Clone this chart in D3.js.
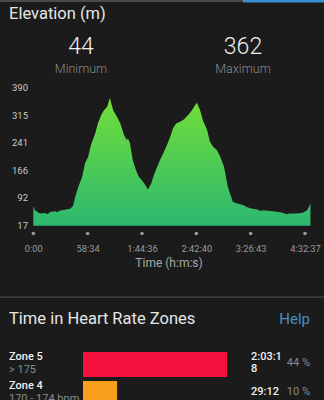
<!DOCTYPE html>
<html><head><meta charset="utf-8">
<script src="https://cdn.jsdelivr.net/npm/d3@7"></script>
<style>
html,body{margin:0;padding:0;background:#1b1b1b;overflow:hidden;}
svg{display:block;font-family:Roboto,"Noto Sans",sans-serif;}
</style></head>
<body>
<script>
// ---- data ----
const distance = [0,0.03,0.12,0.22,0.26,0.31,0.40,0.44,0.49,0.58,0.68,0.73,0.77,0.82,0.90,0.95,1.01,1.06,1.14,1.19,1.25,1.30,1.36,1.41,1.47,1.54,1.60,1.67,1.72,1.74,1.78,1.83,1.89,1.94,2.00,2.06,2.11,2.17,2.22,2.28,2.33,2.39,2.46,2.52,2.57,2.63,2.70,2.77,2.85,2.92,2.98,3.01,3.07,3.12,3.20,3.25,3.31,3.38,3.44,3.51,3.58,3.64,3.67,3.75,3.86,3.92,3.99,4.12,4.18,4.23,4.36,4.48,4.59,4.66,4.72,4.85,4.96,5.04,5.10];
const elevation = [70,59,50,51,48,54,56,53,58,60,63,70,94,119,149,185,203,235,267,294,316,329,338,362,329,311,294,262,248,253,240,194,167,149,140,127,115,131,154,176,194,212,235,257,280,293,298,304,316,329,343,349,329,302,275,244,230,221,203,176,122,95,82,77,73,68,64,61,57,59,57,55,52,48,50,50,52,59,77];
const yTicks = [17,92,166,241,315,390];
const xTickPos = [0,1,2,3,4,5];
const xTickLabels = ["0:00","58:34","1:44:36","2:42:40","3:26:43","4:32:37"];
const statValues = [44,362];
const statLabels = ["Minimum","Maximum"];
const zoneNames = ["Zone 5","Zone 4"];
const zoneRanges = ["> 175","170 - 174 bpm"];
const zoneSeconds = [7398,1752];
const zoneTimeLines = [["2:03:1","8"],["29:12"]];
const zonePercent = ["44 %","10 %"];
const zoneColors = ["#f5103f","#f8a01b"];

const W=324,H=400;
const svg=d3.select("body").append("svg").attr("width",W).attr("height",H);
svg.append("rect").attr("width",W).attr("height",H).attr("fill","#1b1b1b");

// top tab bar
svg.append("rect").attr("x",0).attr("y",0).attr("width",243).attr("height",2).attr("fill","#4a4a4a");
svg.append("rect").attr("x",243).attr("y",0).attr("width",81).attr("height",2.5).attr("fill","#3b8ed0");

svg.append("text").attr("x",9).attr("y",19).attr("fill","#e6e6e6").attr("font-size",16.5).text("Elevation (m)");

const statX=[81,243];
statValues.forEach((v,i)=>{
  svg.append("text").attr("x",statX[i]).attr("y",54).attr("text-anchor","middle").attr("fill","#eeeeee")
    .attr("font-size",23).attr("font-weight",300).text(v);
  svg.append("text").attr("x",statX[i]).attr("y",73).attr("text-anchor","middle").attr("fill","#8a8a8a")
    .attr("font-size",12.5).attr("font-weight",300).text(statLabels[i]);
});

// scales
const x=d3.scaleLinear().domain([0,5]).range([33.3,305]);
const y=d3.scaleLinear().domain([17,390]).range([225.7,87.6]);

const defs=svg.append("defs");
const grad=defs.append("linearGradient").attr("id","g")
  .attr("gradientUnits","userSpaceOnUse").attr("x1",0).attr("y1",y(362)).attr("x2",0).attr("y2",y(17));
grad.append("stop").attr("offset",0).attr("stop-color","#72df38");
grad.append("stop").attr("offset",1).attr("stop-color","#2cb870");

const data=distance.map((d,i)=>({d,e:elevation[i]}));
const area=d3.area().x(p=>x(p.d)).y0(y(17)).y1(p=>y(p.e));
svg.append("path").datum(data).attr("d",area).attr("fill","url(#g)");

// y axis labels
const yAxis=d3.axisLeft(y).tickValues(yTicks).tickSize(0).tickPadding(0);
const gy=svg.append("g").attr("transform","translate(28,0)").call(yAxis);
gy.select(".domain").remove();
gy.selectAll("text").attr("fill","#c8c8c8").attr("font-size",9.5).attr("font-family","Roboto,sans-serif");

// x axis dots + labels
const xAxis=d3.axisBottom(x).tickValues(xTickPos).tickFormat((d,i)=>xTickLabels[i]).tickSize(0).tickPadding(0);
const gx=svg.append("g").attr("transform","translate(0,251.5)").call(xAxis);
gx.select(".domain").remove();
gx.selectAll("text").attr("fill","#9a9a9a").attr("font-size",9.3).attr("font-family","Roboto,sans-serif").attr("dy",0);
svg.selectAll("circle.dot").data(xTickPos).enter().append("circle").attr("class","dot")
  .attr("cx",d=>x(d)).attr("cy",233.5).attr("r",1.8).attr("fill","#9a9a9a");
svg.append("text").attr("x",169).attr("y",267).attr("text-anchor","middle").attr("fill","#a8a8a8")
  .attr("font-size",12).text("Time (h:m:s)");

// separator
svg.append("rect").attr("x",0).attr("y",296.5).attr("width",W).attr("height",1.2).attr("fill","#4a4a4a");

// heart rate zones
svg.append("text").attr("x",9).attr("y",324).attr("fill","#e6e6e6").attr("font-size",16.5).text("Time in Heart Rate Zones");
svg.append("text").attr("x",310).attr("y",324).attr("text-anchor","end").attr("fill","#4a8fc2").attr("font-size",15).text("Help");

const bx=d3.scaleLinear().domain([0,7398]).range([0,144]);
const rowY=[352,381];
zoneNames.forEach((n,i)=>{
  const r=rowY[i];
  svg.append("text").attr("x",9).attr("y",r+8).attr("fill","#f0f0f0").attr("font-size",11).attr("font-weight",500).text(n);
  svg.append("text").attr("x",9).attr("y",r+21).attr("fill","#8a8a8a").attr("font-size",11).text(zoneRanges[i]);
  svg.append("rect").attr("x",83).attr("y",r).attr("width",bx(zoneSeconds[i])).attr("height",25).attr("fill",zoneColors[i]);
  const lines=zoneTimeLines[i];
  const ty = lines.length>1 ? r+8 : r+14;
  lines.forEach((l,j)=>{
    svg.append("text").attr("x",251).attr("y",ty+j*12).attr("fill","#f0f0f0").attr("font-size",11).attr("font-weight",500).text(l);
  });
  svg.append("text").attr("x",310).attr("y",r+14).attr("text-anchor","end").attr("fill","#8a8a8a").attr("font-size",11).text(zonePercent[i]);
});
</script>
</body></html>
